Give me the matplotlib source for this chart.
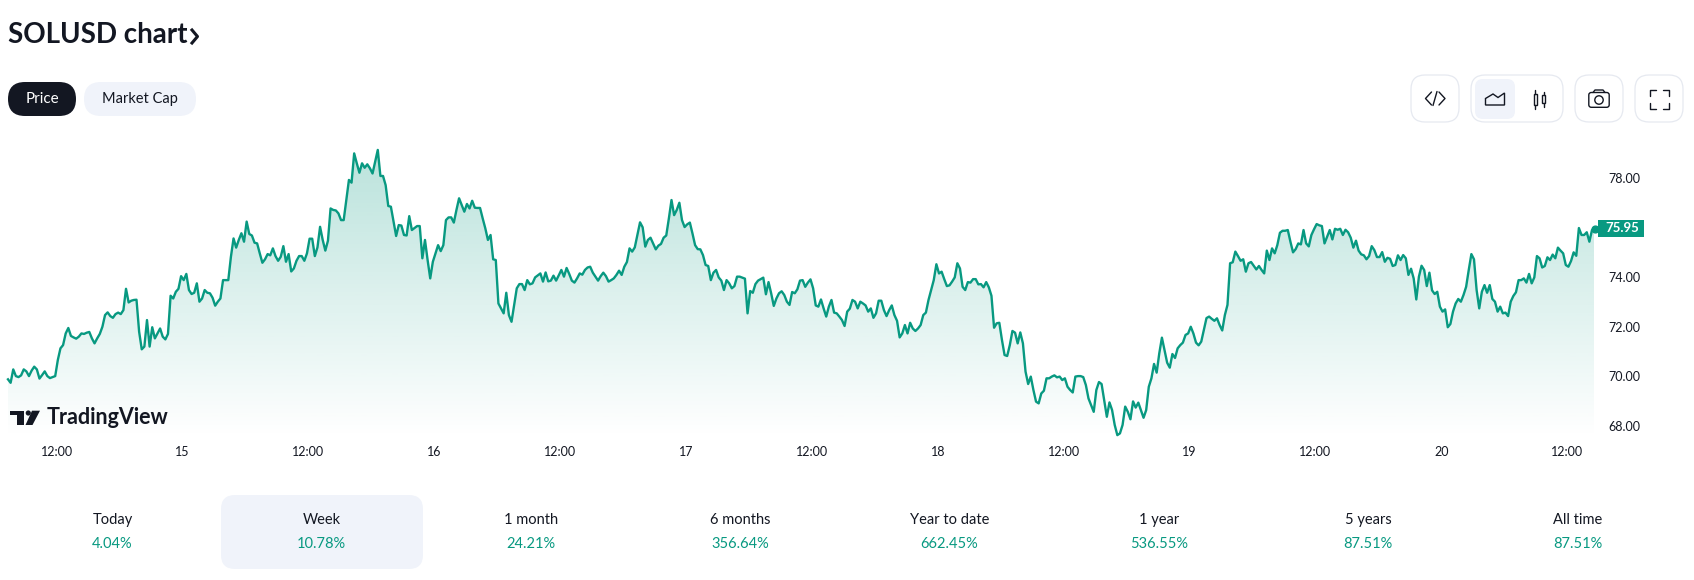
#!/usr/bin/env python3
"""SOLUSD week chart, TradingView widget look."""

import numpy as np
import matplotlib
matplotlib.use("Agg")
import matplotlib.pyplot as plt
from matplotlib.patches import FancyBboxPatch, Polygon, Circle, Rectangle

plt.rcParams["font.family"] = ["Lato", "DejaVu Sans"]

W, H = 1694, 580
GREEN = "#089981"
DARK = "#131722"
PALE = "#f0f3fa"
BORDER = "#e6e9f0"

# hours since the 14th 00:00 of the first 15 minute bar
START_HOUR = 7.36

price = [
    69.87, 69.73, 70.27, 70.00, 69.96, 70.03, 70.27, 70.19, 70.00, 70.22, 70.38, 70.27, 69.90, 70.04, 70.19, 70.00,
    69.92, 69.96, 70.00, 70.65, 71.12, 71.25, 71.72, 71.94, 71.62, 71.56, 71.51, 71.59, 71.72, 71.70, 71.75, 71.78,
    71.52, 71.32, 71.52, 71.70, 71.99, 72.46, 72.57, 72.42, 72.35, 72.50, 72.56, 72.50, 72.66, 73.52, 72.97, 73.04,
    73.07, 73.08, 71.79, 71.08, 71.19, 72.26, 71.19, 71.97, 71.52, 71.72, 71.92, 71.59, 71.48, 71.70, 73.24, 73.13,
    73.40, 73.52, 74.03, 73.87, 74.12, 73.47, 73.31, 73.36, 73.74, 73.00, 73.13, 73.47, 73.36, 73.34, 73.16, 72.84,
    73.00, 73.13, 73.87, 73.87, 73.87, 74.81, 75.55, 75.18, 75.49, 75.76, 75.42, 76.23, 75.73, 75.67, 75.38, 75.35,
    74.95, 74.57, 74.71, 74.92, 74.87, 75.15, 74.84, 74.65, 74.81, 75.24, 74.61, 74.92, 74.22, 74.34, 74.65, 74.84,
    74.84, 74.65, 74.95, 75.54, 75.54, 74.84, 75.19, 76.02, 75.49, 75.06, 75.46, 76.76, 76.70, 76.68, 76.56, 76.29,
    76.29, 77.10, 77.91, 77.80, 78.98, 78.58, 78.20, 78.58, 78.40, 78.54, 78.38, 78.17, 78.64, 79.12, 78.07, 78.07,
    77.70, 76.86, 76.83, 76.23, 75.65, 76.09, 76.07, 75.69, 75.67, 76.45, 75.89, 75.97, 76.05,
    76.05, 74.75, 75.49, 74.68, 73.94, 74.61, 74.95, 75.28, 75.04, 75.28, 76.29, 76.40, 76.40, 76.19, 76.70, 77.17,
    76.90, 76.63, 76.94, 76.76, 77.07, 76.79, 76.78, 76.78, 76.36, 75.96, 75.49, 75.69, 74.71, 74.68, 72.93, 72.73,
    72.53, 73.36, 72.46, 72.19, 72.87, 73.54, 73.71, 73.71, 73.47, 73.87, 73.70, 73.74, 73.98, 74.06, 74.14, 73.81,
    74.18, 73.82, 73.85, 74.05, 73.85, 74.06, 74.28, 74.01, 74.36, 74.12, 73.85, 73.77, 73.94, 74.14, 74.09, 74.28,
    74.38, 74.41, 74.17, 74.01, 73.85, 74.03, 74.17, 74.03, 73.81, 73.87, 73.94, 74.08, 74.25, 74.08, 74.41, 74.60,
    75.15, 75.02, 75.19, 75.69, 76.20, 76.00, 75.22, 75.49, 75.58, 75.35, 75.11, 75.26, 75.33, 75.58, 75.67, 76.36,
    77.10, 76.49, 76.70, 76.99, 76.29, 76.01, 76.12, 76.19, 75.75, 75.28, 75.12, 75.11, 74.88, 74.48, 74.44, 73.87,
    74.17, 74.28, 73.98, 73.85, 73.47, 73.87, 73.74, 73.54, 73.63, 74.01, 74.01, 73.97, 73.93, 72.53, 73.43, 73.36,
    73.71, 73.85, 73.91, 73.97, 73.30, 73.79, 73.34, 72.83, 73.13, 73.34, 73.42, 73.27, 73.00, 72.87, 73.39, 73.34,
    73.50, 73.85, 73.87, 73.60, 73.77, 73.90, 73.54, 72.85, 72.80, 73.09, 72.73, 72.40, 72.80, 73.07, 72.56, 72.53,
    72.40, 72.26, 72.02, 72.60, 72.72, 73.07, 73.00, 72.73, 73.00, 72.93, 72.85, 72.60, 72.73, 72.35, 72.53, 73.04, 73.04,
    72.66, 72.42, 72.66, 72.85, 72.46, 72.23, 71.56, 71.72, 72.06, 71.72, 72.15, 71.92, 71.82, 71.92, 72.06, 72.46,
    72.56, 73.07, 73.47, 73.87, 74.51, 74.14, 74.21, 73.91, 73.63, 73.66, 73.81, 73.98, 74.55, 74.34, 73.60, 73.47,
    73.79, 73.77, 73.91, 73.91, 73.70, 73.71, 73.58, 73.79, 73.58, 73.24, 71.95, 72.13, 72.15, 71.46, 70.85, 70.81,
    71.25, 71.82, 71.75, 71.32, 71.76, 71.32, 70.18, 69.68, 69.98, 69.44, 68.97, 68.90, 69.30, 69.41, 69.91, 69.91,
    69.98, 70.03, 69.95, 69.98, 69.84, 69.91, 69.57, 69.44, 69.34, 69.98, 70.00, 70.00, 69.96, 69.64, 69.10, 68.83,
    68.56, 69.44, 69.76, 69.68, 69.03, 68.36, 68.94, 68.63, 68.03, 67.62, 67.69, 68.03, 68.77, 68.56, 68.26, 68.98,
    68.73, 68.93, 68.63, 68.32, 68.63, 69.57, 69.91, 70.49, 70.14, 70.92, 71.55, 71.05, 70.54, 70.34, 70.89, 70.73,
    71.12, 71.25, 71.35, 71.66, 71.72, 71.99, 71.72, 71.35, 71.24, 71.39, 71.86, 72.34, 72.40, 72.31, 72.23, 72.33,
    72.06, 71.84, 72.46, 72.87, 74.55, 74.59, 75.02, 74.84, 74.65, 74.71, 74.21, 74.55, 74.60, 74.45, 74.30, 74.44,
    74.28, 74.14, 75.06, 74.68, 75.15, 74.95, 75.28, 75.78, 75.86, 75.86, 75.89, 75.42, 74.99, 75.12, 75.35, 75.31,
    75.89, 75.35, 75.23, 75.69, 75.92, 76.13, 76.08, 76.05, 75.35, 75.62, 75.89, 75.51, 75.94, 75.90, 75.94, 75.69,
    75.90, 75.80, 75.58, 75.18, 75.46, 75.06, 74.91, 74.87, 74.71, 74.84, 75.24, 75.08, 74.80, 74.80, 75.00, 74.61,
    74.77, 74.73, 74.44, 74.48, 74.87, 74.68, 74.88, 74.75, 74.08, 74.33, 73.94, 73.09, 74.01, 74.45, 74.28, 73.63,
    74.17, 73.46, 73.31, 73.40, 72.80, 72.60, 72.69, 71.97, 72.10, 72.60, 72.93, 73.11, 73.00, 73.27, 73.60, 74.28,
    74.92, 74.71, 73.47, 72.73, 73.40, 73.67, 73.36, 73.67, 73.11, 73.00, 72.60, 72.80, 72.53, 72.56, 72.42, 73.00,
    73.23, 73.38, 73.87, 73.87, 73.94, 73.77, 74.12, 73.74, 73.98, 74.84, 74.75, 74.38, 74.44, 74.79, 74.68, 74.90,
    74.75, 75.18, 75.06, 74.95, 74.48, 74.41, 74.64, 74.99, 74.85, 75.97, 75.69, 75.69, 75.80, 75.42, 75.89, 75.95,
]

x_ticks = [12, 24, 36, 48, 60, 72, 84, 96, 108, 120, 132, 144, 156]
x_tick_labels = ["12:00", "15", "12:00", "16", "12:00", "17", "12:00", "18", "12:00", "19", "12:00", "20", "12:00"]
y_ticks = [68, 70, 72, 74, 78]
last_price = "75.95"

periods = ["Today", "Week", "1 month", "6 months", "Year to date", "1 year", "5 years", "All time"]
changes = ["4.04%", "10.78%", "24.21%", "356.64%", "662.45%", "536.55%", "87.51%", "87.51%"]


def rounded(ax, x0, y0, x1, y1, radius, **kw):
    ax.add_patch(FancyBboxPatch((x0, y0), x1 - x0, y1 - y0,
                                boxstyle=f"round,pad=0,rounding_size={radius}", **kw))


def draw_chart(fig):
    left, right, top, bottom = 8, 1594, 135, 438
    ax = fig.add_axes([left / W, 1 - bottom / H, (right - left) / W, (bottom - top) / H])
    ax.set_xlim(START_HOUR, 158.55)
    ax.set_ylim(68 - (bottom - 425.7) / 24.8, 68 + (425.7 - top) / 24.8)

    hours = START_HOUR + 0.25 * np.arange(len(price))

    # vertical gradient clipped to the area under the line
    alpha = np.linspace(0.28, 0.0, 256).reshape(-1, 1)
    rgba = np.zeros((256, 1, 4))
    rgba[..., :3] = matplotlib.colors.to_rgb(GREEN)
    rgba[..., 3] = alpha
    ymin, ymax = ax.get_ylim()
    img = ax.imshow(rgba, extent=(hours[0], hours[-1], ymin, max(price)), aspect="auto", zorder=1)
    poly = Polygon(np.r_[[[hours[0], ymin]], np.c_[hours, price], [[hours[-1], ymin]]],
                   transform=ax.transData, facecolor="none", edgecolor="none")
    ax.add_patch(poly)
    img.set_clip_path(poly)
    ax.set_xlim(START_HOUR, 158.55)
    ax.set_ylim(ymin, ymax)

    ax.plot(hours, price, color=GREEN, lw=1.7, solid_joinstyle="round", zorder=2, clip_on=False)
    ax.scatter(hours[-1], price[-1], s=24, color=GREEN, zorder=3, clip_on=False)

    for s in ax.spines.values():
        s.set_visible(False)
    ax.set_xticks(x_ticks, x_tick_labels)
    ax.yaxis.tick_right()
    ax.set_yticks(y_ticks, [f"{v:.2f}" for v in y_ticks])
    ax.tick_params(axis="x", length=0, pad=6, labelsize=9, labelcolor=DARK)
    ax.tick_params(axis="y", length=0, pad=10, labelsize=9, labelcolor=DARK)
    ax.patch.set_alpha(0)


def draw_toolbar(ui):
    ui.text(8, 43, "SOLUSD chart", fontsize=20, fontweight="bold", color=DARK, va="baseline")
    ui.plot([192, 197.5, 192], [30, 36.5, 43], color=DARK, lw=2.2)

    rounded(ui, 8, 82, 76, 116, 17, facecolor=DARK, edgecolor="none")
    ui.text(42, 99, "Price", fontsize=11, color="white", ha="center", va="center")
    rounded(ui, 84, 82, 196, 116, 17, facecolor=PALE, edgecolor="none")
    ui.text(140, 99, "Market Cap", fontsize=10.5, color=DARK, ha="center", va="center")

    for x0, x1 in [(1411, 1459), (1471, 1563), (1575, 1623), (1635, 1683)]:
        rounded(ui, x0, 75, x1, 122, 14, facecolor="white", edgecolor=BORDER, lw=0.9)
    rounded(ui, 1475, 79, 1515, 119, 8, facecolor=PALE, edgecolor="none")

    ic = dict(color=DARK, lw=1.0, solid_capstyle="round", solid_joinstyle="round")
    # embed
    ui.plot([1431.5, 1425.5, 1431.5], [92, 98.5, 105], **ic)
    ui.plot([1433, 1437], [105.5, 91.5], **ic)
    ui.plot([1439, 1445, 1439], [92, 98.5, 105], **ic)
    # area
    ui.add_patch(Polygon([(1485.5, 105), (1485.5, 98.5), (1493, 94), (1498, 97.5), (1504.5, 93), (1504.5, 105)],
                         closed=True, fill=False, edgecolor=DARK, lw=1.0))
    # candles
    ui.add_patch(Rectangle((1533.5, 93.5), 3.2, 11.5, fill=False, edgecolor=DARK, lw=1.0))
    ui.plot([1535, 1535], [89.5, 93.5], **ic)
    ui.plot([1535, 1535], [105, 108.5], **ic)
    ui.add_patch(Rectangle((1541.8, 95), 3.4, 8.3, fill=False, edgecolor=DARK, lw=1.0))
    ui.plot([1543.5, 1543.5], [92, 95], **ic)
    ui.plot([1543.5, 1543.5], [103.3, 106.5], **ic)
    # camera
    rounded(ui, 1588.8, 92.5, 1609.2, 107.3, 2.5, fill=False, edgecolor=DARK, lw=1.0)
    ui.plot([1593, 1595, 1603, 1605], [92.5, 90, 90, 92.5], **ic)
    ui.add_patch(Circle((1599, 100), 4.2, fill=False, edgecolor=DARK, lw=1.0))
    # fullscreen corners
    for cx, sx in [(1649.5, 1), (1668.5, -1)]:
        for cy, sy in [(89.5, 1), (108.5, -1)]:
            ui.plot([cx + 6 * sx, cx, cx], [cy, cy, cy + 6 * sy], **ic)


def draw_overlays(ui):
    # price tag at the end of the line
    ui.add_patch(Rectangle((1598, 220), 46, 16.7, facecolor=GREEN, edgecolor="none"))
    ui.text(1622.7, 228.3, last_price, fontsize=9.5, fontweight="bold", color="white", ha="center", va="center")

    # logo
    ui.add_patch(Polygon([(10, 410.7), (24, 410.7), (24, 425), (16.7, 425), (16.7, 415), (10, 415)],
                         closed=True, facecolor=DARK, edgecolor="none"))
    ui.add_patch(Circle((28.3, 413), 2.6, facecolor=DARK, edgecolor="none"))
    ui.add_patch(Polygon([(32, 410.7), (40, 410.7), (32.5, 425), (25.5, 425)],
                         closed=True, facecolor=DARK, edgecolor="none"))
    ui.text(47, 424.5, "TradingView", fontsize=15.5, fontweight="bold", color=DARK, va="baseline")


def draw_periods(ui):
    rounded(ui, 221, 495, 423, 569, 14, facecolor=PALE, edgecolor="none")
    for i, (name, change) in enumerate(zip(periods, changes)):
        x = 112.4 + 209.3 * i
        ui.text(x, 520, name, fontsize=10.5, color=DARK, ha="center", va="center")
        ui.text(x, 544, change, fontsize=10.5, color=GREEN, ha="center", va="center")


def main():
    fig = plt.figure(figsize=(W / 100, H / 100), dpi=100, facecolor="white")

    # pixel coordinate layer for the page furniture
    ui = fig.add_axes([0, 0, 1, 1], zorder=5)
    ui.set_xlim(0, W)
    ui.set_ylim(H, 0)
    ui.axis("off")
    ui.patch.set_alpha(0)

    draw_chart(fig)
    draw_toolbar(ui)
    draw_overlays(ui)
    draw_periods(ui)

    fig.savefig("out.png", dpi=100)


if __name__ == "__main__":
    main()
